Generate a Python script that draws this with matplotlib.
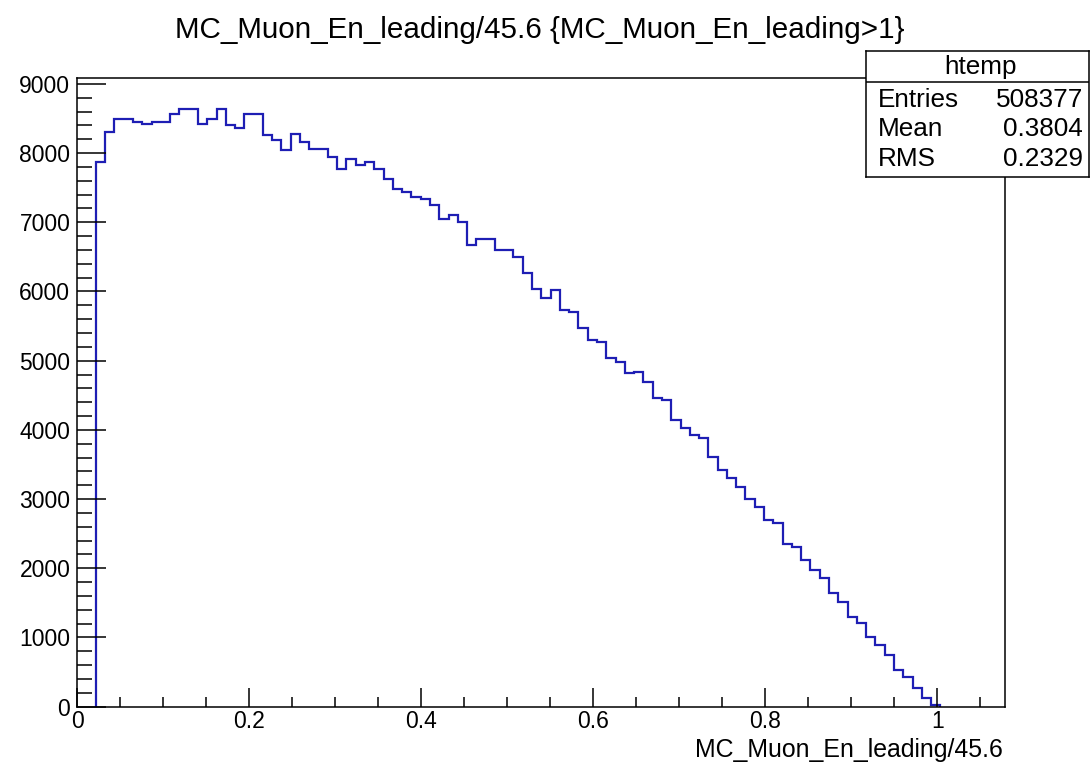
import numpy as np
import matplotlib.pyplot as plt
from matplotlib.ticker import MultipleLocator

plt.rcParams['font.family'] = ['Liberation Sans', 'DejaVu Sans']

# ROOT htemp: 100 bins over [0, 1.079]; only bins 2..92 are filled
x_min, x_max, n_bins = 0.0, 1.079, 100
first_bin = 2
counts = [
    7870, 8300, 8490, 8490, 8450, 8420, 8450, 8450, 8570, 8640,
    8640, 8420, 8495, 8640, 8400, 8355, 8570, 8570, 8260, 8185,
    8040, 8280, 8160, 8060, 8060, 7940, 7770, 7915, 7825, 7870,
    7770, 7630, 7485, 7440, 7370, 7340, 7245, 7040, 7100, 7005,
    6670, 6765, 6765, 6600, 6600, 6500, 6260, 6040, 5900, 6020,
    5730, 5705, 5465, 5300, 5275, 5035, 4985, 4815, 4840, 4695,
    4455, 4430, 4140, 4020, 3925, 3880, 3610, 3420, 3300, 3180,
    3005, 2890, 2700, 2650, 2355, 2310, 2120, 1975, 1855, 1640,
    1515, 1300, 1205, 1010, 890, 745, 530, 435, 265, 130,
    25,
]

title = 'MC_Muon_En_leading/45.6 {MC_Muon_En_leading>1}'
xlabel = 'MC_Muon_En_leading/45.6'
stats_name = 'htemp'
stats_rows = [('Entries', '508377'), ('Mean', '0.3804'), ('RMS', '0.2329')]

W, H = 1090, 764
fig = plt.figure(figsize=(W / 100, H / 100), dpi=100)
ax = fig.add_axes([77.3 / W, 1 - 706.7 / H, (1005.3 - 77.3) / W, (706.7 - 78.3) / H])

all_edges = np.linspace(x_min, x_max, n_bins + 1)
edges = all_edges[first_bin:first_bin + len(counts) + 1]
ax.stairs(counts, edges, baseline=0, color='#1e1eb4', lw=1.6)

ax.set_xlim(x_min, x_max)
ax.set_ylim(0, 9080)
ax.xaxis.set_major_locator(MultipleLocator(0.2))
ax.xaxis.set_minor_locator(MultipleLocator(0.05))
ax.yaxis.set_major_locator(MultipleLocator(1000))
ax.yaxis.set_minor_locator(MultipleLocator(200))
ax.xaxis.set_major_formatter(plt.FuncFormatter(lambda v, p: f'{v:g}'))
ax.tick_params(axis='x', which='major', direction='in', length=14, width=1.1,
               labelsize=16.5, pad=2.5, top=False)
ax.tick_params(axis='x', which='minor', direction='in', length=7, width=1.1, top=False)
ax.tick_params(axis='y', which='major', direction='in', length=21, width=1.1,
               labelsize=16.5, pad=5, right=False)
ax.tick_params(axis='y', which='minor', direction='in', length=10.5, width=1.1, right=False)
for s in ax.spines.values():
    s.set_linewidth(1.1)

fig.text(540 / W, 1 - 30 / H, title, ha='center', va='center', fontsize=21.3)
fig.text(1003 / W, 1 - 757.5 / H, xlabel, ha='right', va='baseline', fontsize=17.9)

# stats box
box = fig.add_axes([866 / W, 1 - 177 / H, (1089 - 866) / W, (177 - 51) / H], zorder=5)
box.set_xticks([])
box.set_yticks([])
box.set_xlim(866, 1089)
box.set_ylim(177, 51)
for s in box.spines.values():
    s.set_linewidth(1.1)
box.axhline(81.7, color='black', lw=1.1)
box.text(981, 66.7, stats_name, ha='center', va='center', fontsize=18.8)
for (name, val), yy in zip(stats_rows, [99.5, 129, 159.5]):
    box.text(877.5, yy, name, ha='left', va='center', fontsize=18.8)
    box.text(1083, yy, val, ha='right', va='center', fontsize=18.8)

fig.savefig('out.png', dpi=100)
